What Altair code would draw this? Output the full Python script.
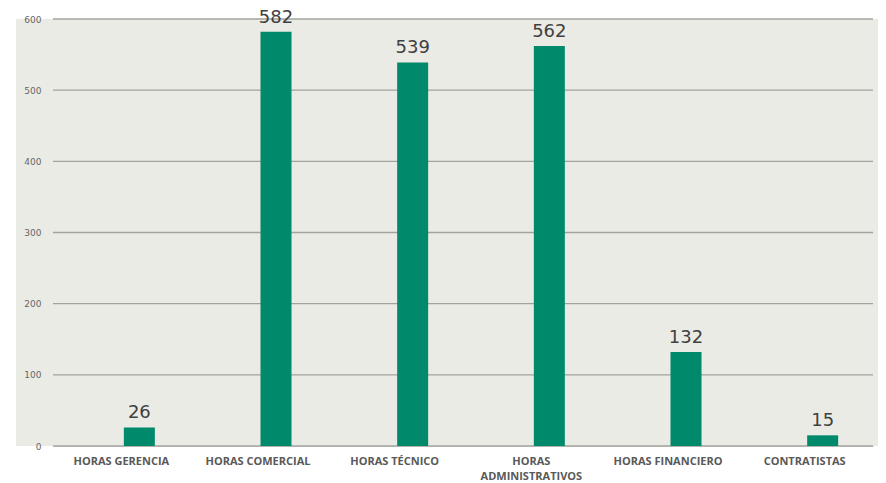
import altair as alt
import pandas as pd

categories = ["HORAS GERENCIA", "HORAS COMERCIAL", "HORAS TÉCNICO",
              "HORAS ADMINISTRATIVOS", "HORAS FINANCIERO", "CONTRATISTAS"]
values = [26, 582, 539, 562, 132, 15]
y_ticks = [0, 100, 200, 300, 400, 500, 600]

df = pd.DataFrame({"cat": categories, "val": values})
grid_df = pd.DataFrame({"t": y_ticks})

W, H = 820, 427

x_enc = alt.X("cat:N", sort=categories, title=None,
              scale=alt.Scale(paddingInner=0, paddingOuter=0),
              axis=alt.Axis(labelAngle=0, labelFont="Open Sans", labelFontWeight="bold",
                            labelFontSize=11, labelColor="#595959", ticks=False,
                            domain=False, labelPadding=9, labelLimit=200, labelLineHeight=15,
                            zindex=1,
                            labelExpr="datum.label == 'HORAS ADMINISTRATIVOS' ? ['HORAS', 'ADMINISTRATIVOS'] : datum.label"))
y_scale = alt.Scale(domain=[0, 600], nice=False)
y_enc = alt.Y("val:Q", title=None, scale=y_scale,
              axis=alt.Axis(values=y_ticks, grid=False,
                            domain=False, ticks=False, labelFont="DejaVu Sans",
                            labelFontSize=9, labelColor="#666666", labelPadding=12,
                            zindex=1))

bg = alt.Chart(pd.DataFrame({"a": [0]})).mark_rect(color="#EBEBE6", clip=False).encode(
    x=alt.value(-37), x2=alt.value(833), y=alt.value(0), y2=alt.value(H))

grid = alt.Chart(grid_df).mark_rule(color="#A3A39E", strokeWidth=1.3).encode(
    y=alt.Y("t:Q", scale=y_scale, title=None), x=alt.value(0), x2=alt.value(W))

bars = alt.Chart(df).mark_bar(color="#00896B", width=31, xOffset=18).encode(x=x_enc, y=y_enc)

labels = alt.Chart(df).mark_text(font="DejaVu Sans", fontSize=18, color="#404040",
                                 baseline="alphabetic", dy=-9, xOffset=18).encode(
    x=alt.X("cat:N", sort=categories), y="val:Q", text="val:Q")

chart = alt.layer(bg, grid, bars, labels).properties(
    width=W, height=H,
    autosize=alt.AutoSizeParams(type="none"),
    padding={"left": 45, "top": 11, "right": 5, "bottom": 37},
).configure_view(stroke=None).configure(background="white")

chart.save("out.html", embed_options={"renderer": "svg", "actions": False})
